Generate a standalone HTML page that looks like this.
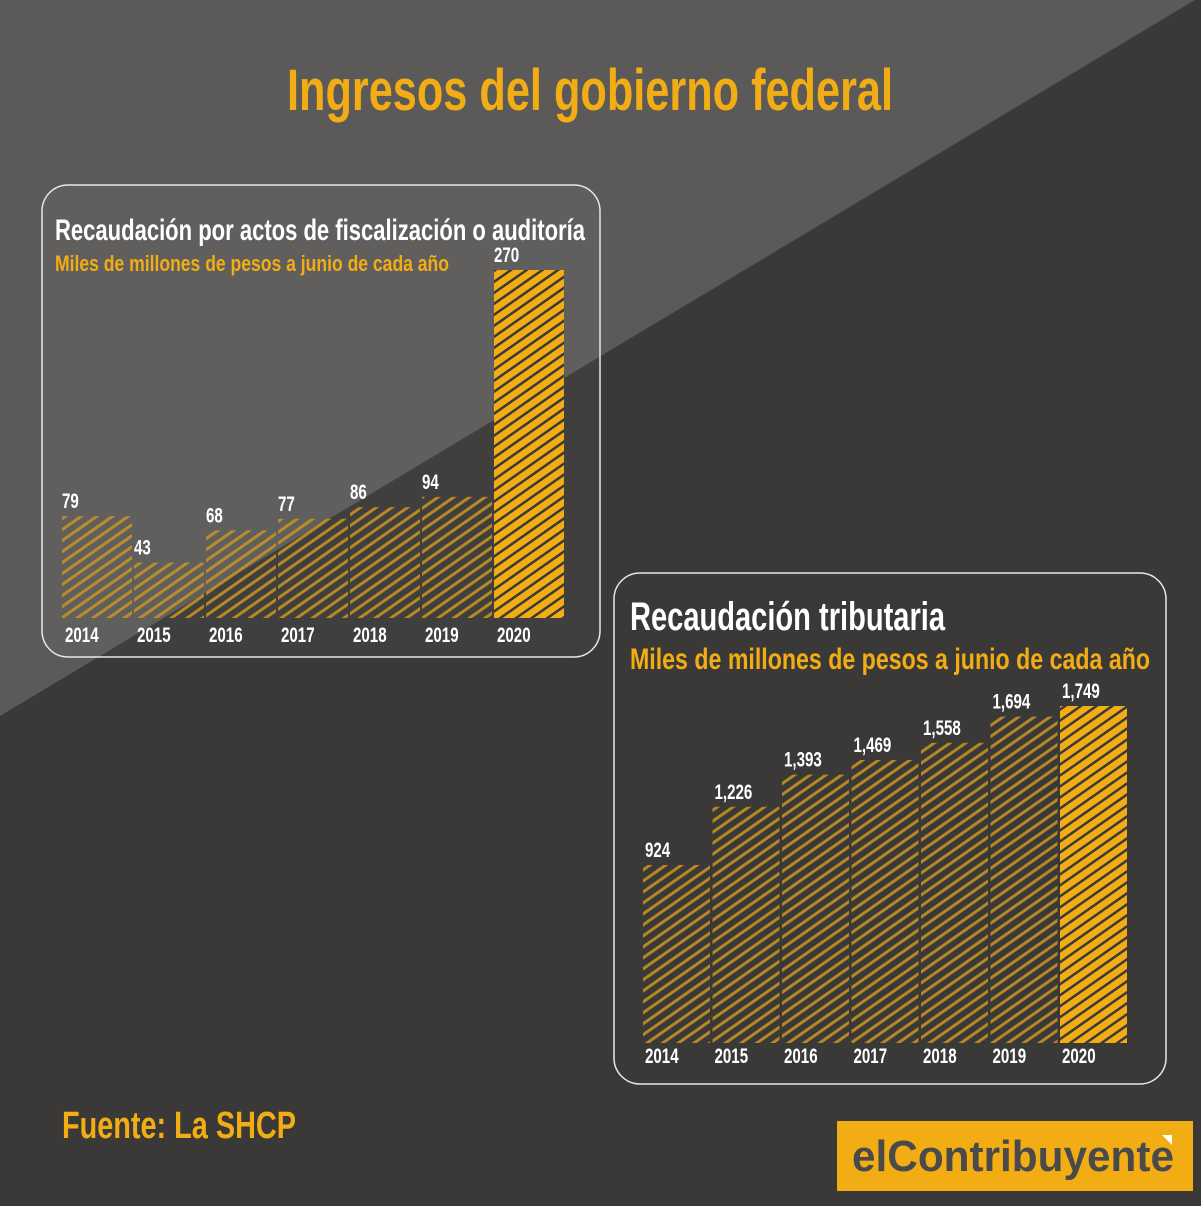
<!DOCTYPE html>
<html><head><meta charset="utf-8"><style>
body{margin:0;width:1201px;height:1201px;overflow:hidden;background:#3a3938;font-family:"Liberation Sans",sans-serif}
svg text{font-family:"Liberation Sans",sans-serif;font-weight:bold}
</style></head><body>
<svg id="s" width="1201" height="1201" viewBox="0 0 1201 1201">
<defs>
<pattern id="h1" width="9" height="9" patternUnits="userSpaceOnUse" patternTransform="rotate(-35)">
<rect width="9" height="3" fill="#c9961e" opacity="0.85"/></pattern>
<pattern id="h2" width="9" height="9" patternUnits="userSpaceOnUse" patternTransform="rotate(-35)">
<rect width="9" height="9" fill="#f2ad14"/><rect width="9" height="2.5" fill="#3a3938"/></pattern>
</defs>
<rect width="1201" height="1201" fill="#3a3938"/>
<polygon points="0,0 1195,0 0,716" fill="#5b5a59"/>
<text x="287" y="110" font-size="58" fill="#f2ad14" textLength="606" lengthAdjust="spacingAndGlyphs">Ingresos del gobierno federal</text>
<rect x="42" y="185" width="558" height="472" rx="26" fill="rgba(255,255,255,0.03)" stroke="#e8e8e8" stroke-width="1.5"/>
<text x="55" y="240" font-size="30" fill="#fff" textLength="530" lengthAdjust="spacingAndGlyphs">Recaudación por actos de fiscalización o auditoría</text>
<text x="55" y="271" font-size="22" fill="#f2ad14" textLength="394" lengthAdjust="spacingAndGlyphs">Miles de millones de pesos a junio de cada año</text>
<g id="c1"></g>
<rect x="614" y="573" width="552" height="511" rx="26" fill="none" stroke="#e8e8e8" stroke-width="1.5"/>
<text x="630" y="630" font-size="40" fill="#fff" textLength="315" lengthAdjust="spacingAndGlyphs">Recaudación tributaria</text>
<text x="630" y="669" font-size="30" fill="#f2ad14" textLength="520" lengthAdjust="spacingAndGlyphs">Miles de millones de pesos a junio de cada año</text>
<g id="c2"></g>
<text x="62" y="1138" font-size="38" fill="#f2ad14" textLength="234" lengthAdjust="spacingAndGlyphs">Fuente:  La SHCP</text>
<rect x="837" y="1121" width="356" height="70" fill="#f2ad14"/>
<text x="852" y="1171" font-size="44" fill="#4a4a4a" textLength="322" lengthAdjust="spacingAndGlyphs">elContribuyente</text>
<polygon points="1162,1135 1172,1135 1172,1145" fill="#fff"/>
</svg>
<script>
const years=["2014","2015","2016","2017","2018","2019","2020"];
const audit=[79,43,68,77,86,94,270];
const tax=[924,1226,1393,1469,1558,1694,1749];
const auditLabels=["79","43","68","77","86","94","270"];
const taxLabels=["924","1,226","1,393","1,469","1,558","1,694","1,749"];
const NS="http://www.w3.org/2000/svg";
function mk(t,a,p){const e=document.createElementNS(NS,t);for(const k in a)e.setAttribute(k,a[k]);p.appendChild(e);return e;}
function draw(g,vals,labels,cfg,pre){
  const y=v=>cfg.base-v*cfg.k;
  vals.forEach((v,i)=>{
    const x=cfg.x0+i*cfg.step;
    const last=i===vals.length-1;
    const r=mk('rect',{x:x,y:y(v),width:cfg.w,height:cfg.base-y(v),fill:last?'url(#h2)':'url(#h1)'},g);
    
    
    const t=mk('text',{transform:'translate('+(x+cfg.lx)+','+(y(v)-cfg.lg)+') scale(0.72,1)','font-size':cfg.fs,fill:'#fff'},g);
    t.textContent=labels[i];
    
    
    const yl=mk('text',{transform:'translate('+(x+cfg.yx)+','+(cfg.base+cfg.yy)+') scale(0.72,1)','font-size':cfg.fs,fill:'#fff'},g);
    yl.textContent=years[i];
    
    
  });
}
draw(document.getElementById('c1'),audit,auditLabels,{x0:62,step:72,w:70,base:618,k:348/270,lx:0,lg:8,fs:21,yx:3,yy:24},'chart1');
draw(document.getElementById('c2'),tax,taxLabels,{x0:643,step:69.5,w:67,base:1043,k:337/1749,lx:2,lg:8,fs:21,yx:2,yy:20},'chart2');
</script>
</body></html>
